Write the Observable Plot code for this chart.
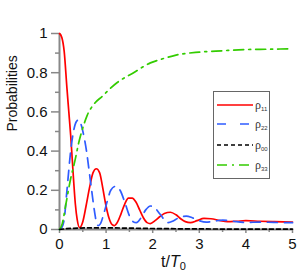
<!DOCTYPE html>
<html>
<head>
<meta charset="utf-8">
<script src="https://cdn.jsdelivr.net/npm/d3@7"></script>
<script src="https://cdn.jsdelivr.net/npm/@observablehq/plot@0.6"></script>
<style>
  html, body { margin: 0; padding: 0; background: #fff; }
  #wrap { position: relative; width: 300px; height: 273px; font-family: "Liberation Sans", Arial, sans-serif; }
  #xlabel { position: absolute; left: 161px; top: 253px; font-size: 16px; color: #111; white-space: nowrap; }
  #xlabel sub { font-size: 11px; vertical-align: -3px; }
  #legend { position: absolute; left: 213px; top: 91px; width: 55px; height: 86px; border: 1px solid #666; background: #fff; }
  #legend svg { overflow: visible; display: block; }
</style>
</head>
<body>
<div id="wrap">
  <div id="chart"></div>
  <div id="xlabel">t/<i>T</i><sub>0</sub></div>
  <div id="legend"></div>
</div>
<script>
// ---- data ----
const seriesNames = ["11", "22", "00", "33"];
const seriesColors = ["#ff0000", "#2f5cff", "#000000", "#33cc00"];
const seriesDash = [null, "10,7", "4,3", "10,5,2,5"];

const t11 = [0,0.05,0.1,0.16,0.2,0.24,0.3,0.34,0.38,0.43,0.5,0.57,0.65,0.72,0.79,0.86,0.93,0.99,1.06,1.13,1.18,1.25,1.32,1.4,1.48,1.56,1.64,1.72,1.8,1.88,1.95,2.05,2.15,2.25,2.38,2.5,2.6,2.7,2.81,2.95,3.1,3.25,3.45,3.6,3.8,4.0,4.3,4.6,5.0];
const rho11 = [1.0,0.98,0.91,0.72,0.60,0.48,0.26,0.13,0.05,0.01,0.04,0.12,0.22,0.29,0.31,0.29,0.21,0.13,0.06,0.025,0.02,0.04,0.08,0.13,0.16,0.16,0.14,0.10,0.06,0.035,0.03,0.045,0.065,0.082,0.088,0.075,0.055,0.04,0.035,0.045,0.057,0.055,0.045,0.04,0.042,0.045,0.042,0.04,0.038];

const t22 = [0,0.05,0.1,0.16,0.24,0.3,0.36,0.41,0.47,0.52,0.58,0.63,0.69,0.74,0.79,0.83,0.88,0.95,1.02,1.1,1.2,1.3,1.4,1.5,1.58,1.65,1.75,1.85,1.95,2.05,2.15,2.25,2.33,2.45,2.6,2.72,2.85,3.0,3.15,3.3,3.5,3.7,4.0,4.3,4.6,5.0];
const rho22 = [0,0.01,0.05,0.2,0.4,0.5,0.55,0.56,0.53,0.48,0.40,0.31,0.2,0.11,0.04,0.02,0.03,0.08,0.14,0.2,0.22,0.2,0.14,0.07,0.04,0.035,0.06,0.1,0.12,0.11,0.08,0.05,0.035,0.045,0.065,0.068,0.06,0.045,0.038,0.042,0.048,0.043,0.036,0.038,0.036,0.035];

const t00 = [0,0.15,0.3,0.6,1.0,1.5,2.0,3.0,4.0,5.0];
const rho00 = [0,0.004,0.006,0.008,0.008,0.007,0.005,0.003,0.002,0.002];

const t33 = [0,0.06,0.13,0.24,0.34,0.41,0.49,0.59,0.74,0.92,1.09,1.24,1.59,1.95,2.2,2.5,3.0,3.5,4.0,4.5,5.0];
const rho33 = [0,0.03,0.12,0.26,0.36,0.44,0.51,0.58,0.64,0.68,0.72,0.75,0.80,0.85,0.87,0.89,0.905,0.912,0.918,0.92,0.922];

const xTicks = [0,1,2,3,4,5];
const xMinor = [0.5,1.5,2.5,3.5,4.5];
const yTicks = [0,0.2,0.4,0.6,0.8,1];
const yMinor = [0.1,0.3,0.5,0.7,0.9];

// ---- build ----
const ts = [t11, t22, t00, t33];
const vs = [rho11, rho22, rho00, rho33];
const rows = ts.map((tt, k) => tt.map((t, i) => ({t, v: vs[k][i]})));

const axisColor = "#888";
const lineMarks = [0, 1, 3, 2].map(k => Plot.line(rows[k], {
  x: "t", y: "v", curve: "monotone-x",
  stroke: seriesColors[k], strokeWidth: 1.7,
  strokeDasharray: seriesDash[k] || undefined
}));

const chart = Plot.plot({
  width: 300, height: 273,
  marginTop: 33, marginBottom: 44, marginLeft: 59, marginRight: 8,
  style: {fontFamily: "Liberation Sans, Arial, sans-serif", color: "#111", background: "#fff"},
  x: {domain: [0, 5]},
  y: {domain: [0, 1]},
  marks: [
    Plot.axisY({ticks: yTicks, tickSize: 8, tickPadding: 4, fontSize: 15, stroke: axisColor, strokeWidth: 1.5, tickFormat: d => String(d), label: null}),
    Plot.axisY({ticks: yMinor, tickSize: 4, stroke: axisColor, strokeWidth: 1.5, tickFormat: () => "", label: null}),
    Plot.axisX({ticks: xTicks, tickSize: 4, tickPadding: 5, fontSize: 15, stroke: axisColor, strokeWidth: 1.5, tickFormat: d => String(d), label: null}),
    Plot.axisX({ticks: xMinor, tickSize: 3, stroke: axisColor, strokeWidth: 1.5, tickFormat: () => "", label: null}),
    Plot.ruleX([0], {y1: 0, y2: 1, stroke: axisColor, strokeWidth: 2}),
    Plot.ruleY([0], {x1: 0, x2: 5, stroke: axisColor, strokeWidth: 2}),
    ...lineMarks,
    Plot.text(["Probabilities"], {frameAnchor: "left", dx: -47, rotate: -90, fontSize: 14, fill: "#111"})
  ]
});
document.getElementById("chart").appendChild(chart);

// ---- legend ----
const ns = "http://www.w3.org/2000/svg";
const lsvg = document.createElementNS(ns, "svg");
lsvg.setAttribute("width", 55); lsvg.setAttribute("height", 86);
const rowY = [13, 32, 53, 73];
seriesNames.forEach((name, k) => {
  const ln = document.createElementNS(ns, "line");
  ln.setAttribute("x1", 3); ln.setAttribute("x2", 39);
  ln.setAttribute("y1", rowY[k]); ln.setAttribute("y2", rowY[k]);
  ln.setAttribute("stroke", seriesColors[k]); ln.setAttribute("stroke-width", 1.7);
  if (seriesDash[k]) ln.setAttribute("stroke-dasharray", k === 1 ? "9,14" : seriesDash[k]);
  lsvg.appendChild(ln);
  const tx = document.createElementNS(ns, "text");
  tx.setAttribute("x", 41); tx.setAttribute("y", rowY[k] + 4);
  tx.setAttribute("font-family", "Liberation Serif, Times New Roman, serif");
  tx.setAttribute("font-size", 12); tx.setAttribute("fill", "#333");
  tx.textContent = "ρ";
  const sb = document.createElementNS(ns, "tspan");
  sb.setAttribute("font-size", 6); sb.setAttribute("dy", 2);
  sb.setAttribute("font-family", "Liberation Sans Narrow, Liberation Sans, Arial, sans-serif");
  sb.textContent = name;
  tx.appendChild(sb);
  lsvg.appendChild(tx);
});
document.getElementById("legend").appendChild(lsvg);
</script>
</body>
</html>
